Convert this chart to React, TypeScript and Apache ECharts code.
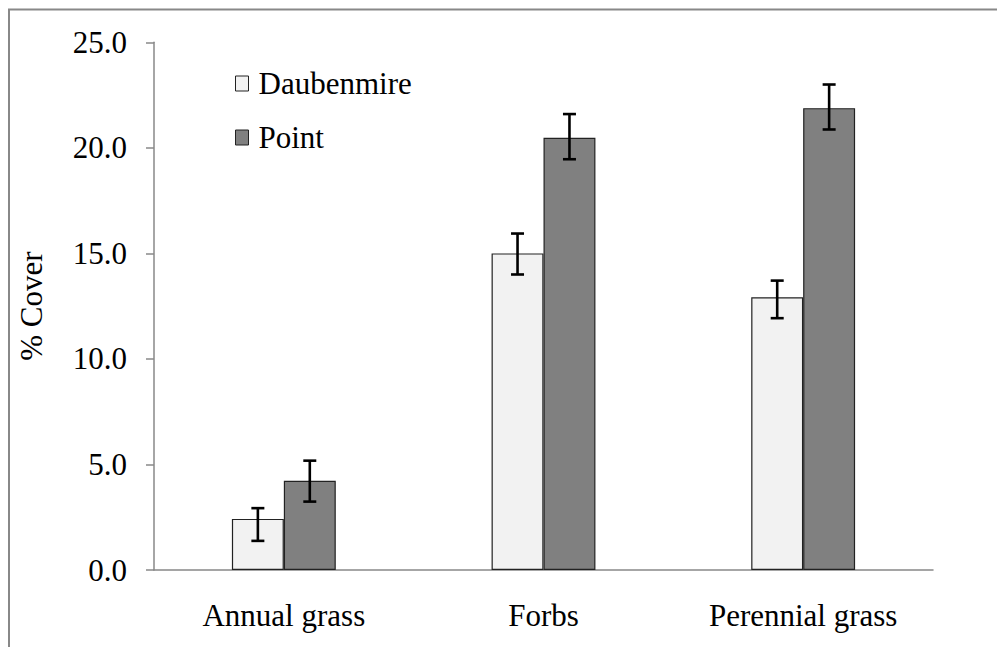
import React, { useEffect, useRef } from "react";
import * as echarts from "echarts";

// Plant cover by functional group, two sampling methods
const categories = ["Annual grass", "Forbs", "Perennial grass"];
const seriesNames = ["Daubenmire", "Point"];

const daubenmire = [2.42, 15.0, 12.92];
const daubenmireLow = [1.38, 14.0, 11.93];
const daubenmireHigh = [2.93, 15.94, 13.71];

const point = [4.23, 20.48, 21.88];
const pointLow = [3.24, 19.46, 20.87];
const pointHigh = [5.18, 21.6, 23.0];

const yTicks = [0, 5, 10, 15, 20, 25];

const FONT = "Liberation Serif, Times New Roman, serif";
const AXIS_GRAY = "#888888";

function errorSeries(low: number[], high: number[], side: number) {
  return {
    type: "custom",
    silent: true,
    z: 10,
    data: categories.map((_, i) => [i, low[i], high[i]]),
    encode: { x: 0, y: [1, 2] },
    renderItem: (params: any, api: any) => {
      const idx = api.value(0);
      const band = api.size([1, 0])[0];
      const barW = band * 0.2;
      const lowPt = api.coord([idx, api.value(1)]);
      const highPt = api.coord([idx, api.value(2)]);
      const x = lowPt[0] + side * barW / 2;
      const cap = 6.5;
      const style = { stroke: "#000000", lineWidth: 2.6 };
      return {
        type: "group",
        children: [
          { type: "line", shape: { x1: x, y1: highPt[1], x2: x, y2: lowPt[1] }, style },
          { type: "line", shape: { x1: x - cap, y1: highPt[1], x2: x + cap, y2: highPt[1] }, style },
          { type: "line", shape: { x1: x - cap, y1: lowPt[1], x2: x + cap, y2: lowPt[1] }, style },
        ],
      };
    },
  };
}

export default function App() {
  const ref = useRef<HTMLDivElement>(null);

  useEffect(() => {
    if (!ref.current) return;
    const chart = echarts.init(ref.current, undefined, { renderer: "svg" });
    chart.setOption({
      animation: false,
      backgroundColor: "#ffffff",
      textStyle: { fontFamily: FONT },
      graphic: [
        {
          type: "rect",
          shape: { x: 9, y: 9.5, width: 1100, height: 1000 },
          style: { fill: "none", stroke: AXIS_GRAY, lineWidth: 2 },
          silent: true,
          z: -1,
        },
      ],
      legend: {
        orient: "vertical",
        left: 235,
        top: 68,
        padding: 0,
        icon: "rect",
        itemWidth: 13,
        itemHeight: 15,
        itemGap: 23,
        data: seriesNames,
        itemStyle: { borderColor: "#222222", borderWidth: 1 },
        textStyle: {
          fontFamily: FONT,
          fontSize: 31,
          lineHeight: 31,
          color: "#000000",
          padding: [0, 0, 0, 5],
        },
      },
      grid: { left: 154, right: 64, top: 42.3, bottom: 77, containLabel: false },
      xAxis: {
        type: "category",
        data: categories,
        axisLine: { lineStyle: { color: AXIS_GRAY, width: 1.5 } },
        axisTick: { show: false },
        axisLabel: {
          margin: 30,
          fontFamily: FONT,
          fontSize: 31,
          color: "#000000",
        },
      },
      yAxis: {
        type: "value",
        min: yTicks[0],
        max: yTicks[yTicks.length - 1],
        interval: 5,
        name: "% Cover",
        nameLocation: "middle",
        nameGap: 107,
        nameTextStyle: { fontFamily: FONT, fontSize: 31, color: "#000000" },
        splitLine: { show: false },
        axisLine: { show: true, lineStyle: { color: AXIS_GRAY, width: 1.5 } },
        axisTick: { show: true, length: 8, lineStyle: { color: AXIS_GRAY, width: 1.5 } },
        axisLabel: {
          margin: 27,
          fontFamily: FONT,
          fontSize: 31,
          color: "#000000",
          formatter: (v: number) => v.toFixed(1),
        },
      },
      series: [
        {
          name: seriesNames[0],
          type: "bar",
          data: daubenmire,
          barWidth: "20%",
          barGap: "0%",
          itemStyle: { color: "#f2f2f2", borderColor: "#222222", borderWidth: 1.2 },
        },
        {
          name: seriesNames[1],
          type: "bar",
          data: point,
          barWidth: "20%",
          barGap: "0%",
          itemStyle: { color: "#808080", borderColor: "#222222", borderWidth: 1.2 },
        },
        errorSeries(daubenmireLow, daubenmireHigh, -1),
        errorSeries(pointLow, pointHigh, 1),
      ],
    });
    return () => chart.dispose();
  }, []);

  return <div ref={ref} style={{ width: 997, height: 647, position: "absolute", left: 0, top: 0 }} />;
}
